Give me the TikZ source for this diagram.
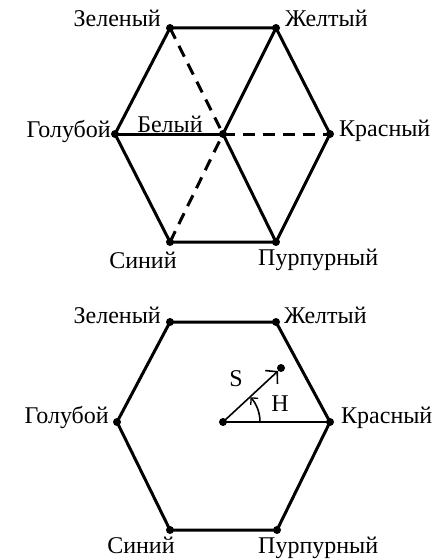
\documentclass[tikz,border=0pt]{standalone}
\usepackage{fontspec}
\setmainfont{Liberation Serif}
\usetikzlibrary{arrows.meta}
\begin{document}
\begin{tikzpicture}[x=1pt,y=-1pt,
  dot/.style={circle,fill=black,inner sep=0pt,minimum size=8pt},
  edge/.style={line width=3pt},
  dedge/.style={line width=3pt,dash pattern=on 12pt off 8pt},
  thin/.style={line width=1.6pt},
  lbl/.style={inner sep=0pt,font=\fontsize{24}{28}\selectfont}]
\useasboundingbox (0,0) rectangle (439,559);
% ---------- top hexagon ----------
\node[dot] (tG) at (170,28) {};
\node[dot] (tY) at (276,28) {};
\node[dot] (tC) at (115,134) {};
\node[dot] (tW) at (223,134) {};
\node[dot] (tR) at (330,134) {};
\node[dot] (tB) at (170,242) {};
\node[dot] (tM) at (276,242) {};
\draw[edge,line join=round] (tG.center) -- (tY.center) -- (tR.center) -- (tM.center) -- (tB.center) -- (tC.center) -- cycle;
\draw[edge] (tC.center) -- (tW.center);
\draw[edge] (tY.center) -- (tW.center);
\draw[edge] (tW.center) -- (tM.center);
\draw[dedge] (tG.center) -- (tW.center);
\draw[dedge] (tW.center) -- (tR.center);
\draw[dedge] (tB.center) -- (tW.center);
\node[lbl,anchor=base east] (ltG) at (161,27) {Зеленый};
\node[lbl,anchor=base west] (ltY) at (285,27) {Желтый};
\node[lbl,anchor=base east] (ltC) at (111,137) {Голубой};
\node[lbl,anchor=base] (ltW) at (170,132) {Белый};
\node[lbl,anchor=base west] (ltR) at (339,136) {Красный};
\node[lbl,anchor=base] (ltB) at (143,268) {Синий};
\node[lbl,anchor=base west] (ltM) at (258,265) {Пурпурный};
% ---------- bottom hexagon ----------
\node[dot] (bG) at (170,322) {};
\node[dot] (bY) at (276,322) {};
\node[dot] (bC) at (117,422) {};
\node[dot] (bO) at (223,422) {};
\node[dot] (bR) at (330,422) {};
\node[dot] (bB) at (170,530) {};
\node[dot] (bM) at (277,530) {};
\node[dot] (bS) at (281,368) {};
\draw[edge,line join=round] (bG.center) -- (bY.center) -- (bR.center) -- (bM.center) -- (bB.center) -- (bC.center) -- cycle;
\draw[thin] (bO.center) -- (bR.center);
\coordinate (sTip) at (278,371);
\draw[thin,-{Straight Barb[length=8pt,width=18pt,line width=1.6pt]}] (bO.center) -- (sTip);
\draw[thin,-{Straight Barb[length=5pt,width=10pt,line width=1.3pt]}] ([shift={(37,0)}]bO.center) arc[start angle=0,end angle=-42,radius=37];
\node[lbl,anchor=base east] (lbG) at (161,323) {Зеленый};
\node[lbl,anchor=base west] (lbY) at (284,323) {Желтый};
\node[lbl,anchor=base east] (lbC) at (109,423) {Голубой};
\node[lbl,anchor=base west] (lbR) at (341,423) {Красный};
\node[lbl,anchor=base] (lbB) at (141,553) {Синий};
\node[lbl,anchor=base west] (lbM) at (258,553) {Пурпурный};
\node[lbl] (lS) at (236,379) {S};
\node[lbl] (lH) at (280,404) {H};
\end{tikzpicture}
\end{document}
